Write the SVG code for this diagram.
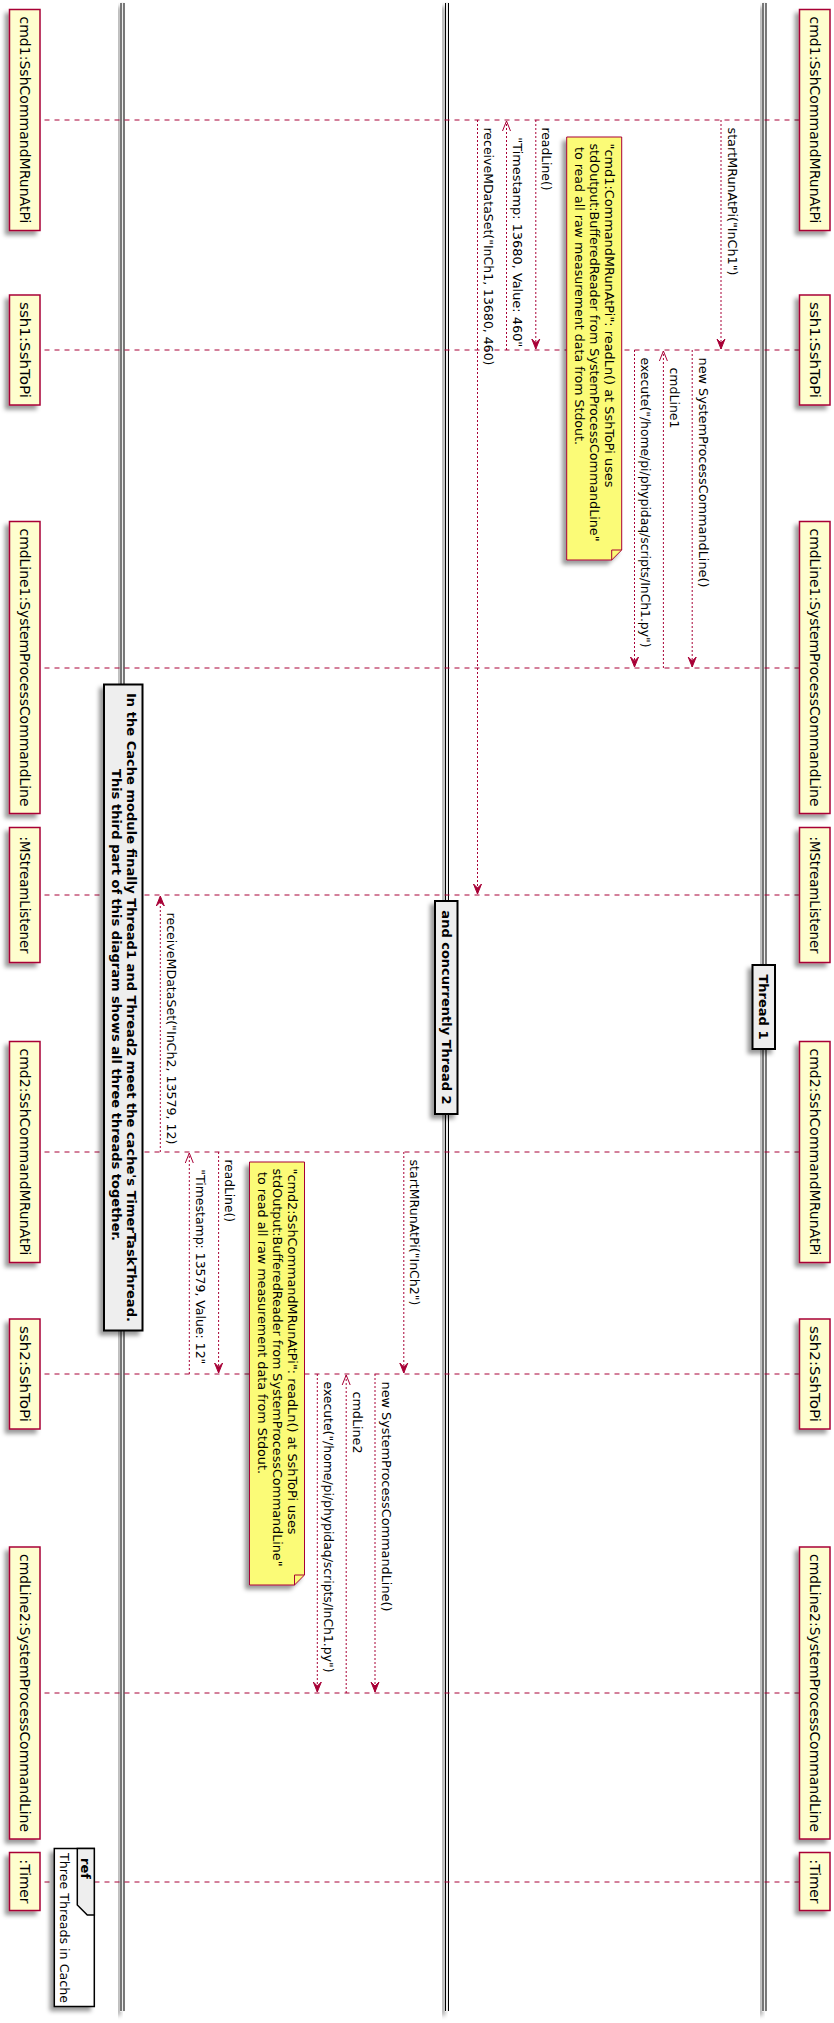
<svg xmlns="http://www.w3.org/2000/svg" width="834" height="2023" viewBox="0 0 834 2023">
<defs>
<style>
.p{fill:#FEFECE;stroke:#A80036;stroke-width:1.5}
.ll{stroke:#A80036;stroke-width:1;stroke-dasharray:5,5;fill:none}
.msg{stroke:#A80036;stroke-width:1;stroke-dasharray:2,2;fill:none}
.t14{font-family:'DejaVu Sans','Liberation Sans',sans-serif;font-size:14px;fill:#000000}
.t13{font-family:'DejaVu Sans','Liberation Sans',sans-serif;font-size:13px;fill:#000000}
.b{font-weight:bold}
.note{fill:#FBFB77;stroke:#A80036;stroke-width:1}
.fold{fill:none;stroke:#A80036;stroke-width:1}
.dbox{fill:#EEEEEE;stroke:#000000;stroke-width:2}
.dband{fill:#EEEEEE;stroke:#EEEEEE;stroke-width:1}
.dl{stroke:#000000;stroke-width:1}
</style>
<filter id="sh" x="-1" y="-1" width="300%" height="300%">
<feGaussianBlur in="SourceGraphic" stdDeviation="2" result="b1"/>
<feColorMatrix in="b1" type="matrix" values="0 0 0 0 0 0 0 0 0 0 0 0 0 0 0 0 0 0 .4 0" result="b2"/>
<feOffset in="b2" dx="4" dy="4" result="b3"/>
<feBlend in="SourceGraphic" in2="b3" mode="normal"/>
</filter>
<marker id="af" markerUnits="userSpaceOnUse" markerWidth="12" markerHeight="10" refX="10" refY="4" orient="auto" overflow="visible">
<path d="M0,0 L10,4 L0,8 L4,4 Z" fill="#A80036" stroke="#A80036" stroke-width="1"/>
</marker>
<marker id="ao" markerUnits="userSpaceOnUse" markerWidth="12" markerHeight="10" refX="10" refY="4" orient="auto" overflow="visible">
<path d="M0,0 L10,4 L0,8" fill="none" stroke="#A80036" stroke-width="1"/>
</marker>
</defs>
<rect x="0" y="0" width="834" height="2023" fill="#FFFFFF"/>
<g transform="matrix(0 1 -1 0 834 0)">

<g id="dividers">
<g id="div-thread1">
<rect class="dband" x="3" y="68" width="2008" height="3" filter="url(#sh)"/>
<line class="dl" x1="3" y1="68" x2="2011" y2="68"/>
<line class="dl" x1="3" y1="71" x2="2011" y2="71"/>
</g>
<g id="div-thread2">
<rect class="dband" x="3" y="385.5" width="2008" height="3" filter="url(#sh)"/>
<line class="dl" x1="3" y1="385.5" x2="2011" y2="385.5"/>
<line class="dl" x1="3" y1="388.5" x2="2011" y2="388.5"/>
</g>
<g id="div-cache">
<rect class="dband" x="3" y="710" width="2008" height="3" filter="url(#sh)"/>
<line class="dl" x1="3" y1="710" x2="2011" y2="710"/>
<line class="dl" x1="3" y1="713" x2="2011" y2="713"/>
</g>
</g>

<g id="p-cmd1">
<line class="ll" x1="120" y1="34.5" x2="120" y2="794"/>
<rect class="p" x="9.5" y="4" width="221" height="30.5" filter="url(#sh)"/>
<text class="t14" x="16.5" y="24.5" textLength="207" lengthAdjust="spacingAndGlyphs">cmd1:SshCommandMRunAtPi</text>
<rect class="p" x="9.5" y="794" width="221" height="30.5" filter="url(#sh)"/>
<text class="t14" x="16.5" y="814.5" textLength="207" lengthAdjust="spacingAndGlyphs">cmd1:SshCommandMRunAtPi</text>
</g>
<g id="p-ssh1">
<line class="ll" x1="350" y1="34.5" x2="350" y2="794"/>
<rect class="p" x="295" y="4" width="110" height="30.5" filter="url(#sh)"/>
<text class="t14" x="302" y="24.5" textLength="96" lengthAdjust="spacingAndGlyphs">ssh1:SshToPi</text>
<rect class="p" x="295" y="794" width="110" height="30.5" filter="url(#sh)"/>
<text class="t14" x="302" y="814.5" textLength="96" lengthAdjust="spacingAndGlyphs">ssh1:SshToPi</text>
</g>
<g id="p-cmdLine1">
<line class="ll" x1="668" y1="34.5" x2="668" y2="794"/>
<rect class="p" x="521.5" y="4" width="292" height="30.5" filter="url(#sh)"/>
<text class="t14" x="528.5" y="24.5" textLength="278" lengthAdjust="spacingAndGlyphs">cmdLine1:SystemProcessCommandLine</text>
<rect class="p" x="521.5" y="794" width="292" height="30.5" filter="url(#sh)"/>
<text class="t14" x="528.5" y="814.5" textLength="278" lengthAdjust="spacingAndGlyphs">cmdLine1:SystemProcessCommandLine</text>
</g>
<g id="p-mstream">
<line class="ll" x1="895" y1="34.5" x2="895" y2="794"/>
<rect class="p" x="827.5" y="4" width="135" height="30.5" filter="url(#sh)"/>
<text class="t14" x="836.5" y="24.5" textLength="117" lengthAdjust="spacingAndGlyphs">:MStreamListener</text>
<rect class="p" x="827.5" y="794" width="135" height="30.5" filter="url(#sh)"/>
<text class="t14" x="836.5" y="814.5" textLength="117" lengthAdjust="spacingAndGlyphs">:MStreamListener</text>
</g>
<g id="p-cmd2">
<line class="ll" x1="1152" y1="34.5" x2="1152" y2="794"/>
<rect class="p" x="1041.5" y="4" width="221" height="30.5" filter="url(#sh)"/>
<text class="t14" x="1048.5" y="24.5" textLength="207" lengthAdjust="spacingAndGlyphs">cmd2:SshCommandMRunAtPi</text>
<rect class="p" x="1041.5" y="794" width="221" height="30.5" filter="url(#sh)"/>
<text class="t14" x="1048.5" y="814.5" textLength="207" lengthAdjust="spacingAndGlyphs">cmd2:SshCommandMRunAtPi</text>
</g>
<g id="p-ssh2">
<line class="ll" x1="1374" y1="34.5" x2="1374" y2="794"/>
<rect class="p" x="1319" y="4" width="110" height="30.5" filter="url(#sh)"/>
<text class="t14" x="1326" y="24.5" textLength="96" lengthAdjust="spacingAndGlyphs">ssh2:SshToPi</text>
<rect class="p" x="1319" y="794" width="110" height="30.5" filter="url(#sh)"/>
<text class="t14" x="1326" y="814.5" textLength="96" lengthAdjust="spacingAndGlyphs">ssh2:SshToPi</text>
</g>
<g id="p-cmdLine2">
<line class="ll" x1="1693" y1="34.5" x2="1693" y2="794"/>
<rect class="p" x="1547" y="4" width="292" height="30.5" filter="url(#sh)"/>
<text class="t14" x="1554" y="24.5" textLength="278" lengthAdjust="spacingAndGlyphs">cmdLine2:SystemProcessCommandLine</text>
<rect class="p" x="1547" y="794" width="292" height="30.5" filter="url(#sh)"/>
<text class="t14" x="1554" y="814.5" textLength="278" lengthAdjust="spacingAndGlyphs">cmdLine2:SystemProcessCommandLine</text>
</g>
<g id="p-timer">
<line class="ll" x1="1882" y1="34.5" x2="1882" y2="794"/>
<rect class="p" x="1852.5" y="4" width="58" height="30.5" filter="url(#sh)"/>
<text class="t14" x="1859.5" y="24.5" textLength="44" lengthAdjust="spacingAndGlyphs">:Timer</text>
<rect class="p" x="1852.5" y="794" width="58" height="30.5" filter="url(#sh)"/>
<text class="t14" x="1859.5" y="814.5" textLength="44" lengthAdjust="spacingAndGlyphs">:Timer</text>
</g>

<g id="divider-boxes">
<g id="divbox-thread1">
<rect class="dbox" x="965" y="59" width="84" height="22.5" filter="url(#sh)"/>
<text class="t13 b" x="1007" y="74.8" text-anchor="middle">Thread 1</text>
</g>
<g id="divbox-thread2">
<rect class="dbox" x="901" y="376.5" width="213" height="22.5" filter="url(#sh)"/>
<text class="t13 b" x="1007.5" y="392.3" text-anchor="middle">and concurrently Thread 2</text>
</g>
<g id="divbox-cache">
<rect class="dbox" x="684.5" y="691.5" width="646" height="38.5" filter="url(#sh)"/>
<text class="t13 b" x="1007.5" y="707" text-anchor="middle" textLength="629" lengthAdjust="spacingAndGlyphs">In the Cache module finally Thread1 and Thread2 meet the cache's TimerTaskThread.</text>
<text class="t13 b" x="1005" y="722.2" text-anchor="middle" textLength="472" lengthAdjust="spacingAndGlyphs">This third part of this diagram shows all three threads together.</text>
</g>
</g>

<g id="note1">
<polygon class="note" points="137,212.3 137,267.3 560,267.3 560,222.3 550,212.3 137,212.3" filter="url(#sh)"/>
<path class="fold" d="M550,212.3 L550,222.3 L560,222.3"/>
<text class="t13" x="143.5" y="228.6" textLength="344" lengthAdjust="spacingAndGlyphs">"cmd1:CommandMRunAtPi": readLn() at SshToPi uses</text>
<text class="t13" x="143.5" y="243.7" textLength="398" lengthAdjust="spacingAndGlyphs">stdOutput:BufferedReader from SystemProcessCommandLine"</text>
<text class="t13" x="147" y="258.8" textLength="298" lengthAdjust="spacingAndGlyphs">to read all raw measurement data from Stdout.</text>
</g>
<g id="note2">
<polygon class="note" points="1162,529.5 1162,584.5 1585,584.5 1585,539.5 1575,529.5 1162,529.5" filter="url(#sh)"/>
<path class="fold" d="M1575,529.5 L1575,539.5 L1585,539.5"/>
<text class="t13" x="1168.5" y="545.8" textLength="366" lengthAdjust="spacingAndGlyphs">"cmd2:SshCommandMRunAtPi": readLn() at SshToPi uses</text>
<text class="t13" x="1168.5" y="560.9" textLength="398" lengthAdjust="spacingAndGlyphs">stdOutput:BufferedReader from SystemProcessCommandLine"</text>
<text class="t13" x="1172" y="576" textLength="302" lengthAdjust="spacingAndGlyphs">to read all raw measurement data from Stdout.</text>
</g>

<g id="ref">
<rect x="1848.5" y="739.7" width="158" height="40" fill="#FFFFFF" stroke="#000000" stroke-width="1.5" filter="url(#sh)"/>
<polygon points="1848.5,739.7 1915,739.7 1915,746.7 1905,756.7 1848.5,756.7" fill="#EEEEEE" stroke="#000000" stroke-width="1.5"/>
<text class="t13 b" x="1858" y="753.5">ref</text>
<text class="t13" x="1853" y="773.8" textLength="150" lengthAdjust="spacingAndGlyphs">Three Threads in Cache</text>
</g>

<g id="connectors">
<line class="msg" x1="120" y1="113" x2="349" y2="113" marker-end="url(#af)"/>
<text class="t13" x="127.5" y="106.5" textLength="148" lengthAdjust="spacingAndGlyphs">startMRunAtPi("InCh1")</text>
<line class="msg" x1="350" y1="141.8" x2="667" y2="141.8" marker-end="url(#af)"/>
<text class="t13" x="357.5" y="135.3" textLength="230" lengthAdjust="spacingAndGlyphs">new SystemProcessCommandLine()</text>
<line class="msg" x1="668" y1="170.6" x2="351" y2="170.6" marker-end="url(#ao)"/>
<text class="t13" x="367.5" y="164.1" textLength="61" lengthAdjust="spacingAndGlyphs">cmdLine1</text>
<line class="msg" x1="350" y1="199.5" x2="667" y2="199.5" marker-end="url(#af)"/>
<text class="t13" x="357.5" y="193" textLength="290" lengthAdjust="spacingAndGlyphs">execute("/home/pi/phypidaq/scripts/InCh1.py")</text>
<line class="msg" x1="120" y1="298.2" x2="349" y2="298.2" marker-end="url(#af)"/>
<text class="t13" x="127.5" y="291.7" textLength="63" lengthAdjust="spacingAndGlyphs">readLine()</text>
<line class="msg" x1="350" y1="327.5" x2="121" y2="327.5" marker-end="url(#ao)"/>
<text class="t13" x="137.3" y="321" textLength="210" lengthAdjust="spacingAndGlyphs">"Timestamp: 13680, Value: 460"</text>
<line class="msg" x1="120" y1="356.5" x2="894" y2="356.5" marker-end="url(#af)"/>
<text class="t13" x="127.5" y="350" textLength="238" lengthAdjust="spacingAndGlyphs">receiveMDataSet("InCh1, 13680, 460)</text>

<line class="msg" x1="1152" y1="430.2" x2="1373" y2="430.2" marker-end="url(#af)"/>
<text class="t13" x="1159.5" y="423.7" textLength="146" lengthAdjust="spacingAndGlyphs">startMRunAtPi("InCh2")</text>
<line class="msg" x1="1374" y1="459" x2="1692" y2="459" marker-end="url(#af)"/>
<text class="t13" x="1381.5" y="452.5" textLength="230" lengthAdjust="spacingAndGlyphs">new SystemProcessCommandLine()</text>
<line class="msg" x1="1693" y1="487.8" x2="1375" y2="487.8" marker-end="url(#ao)"/>
<text class="t13" x="1391.5" y="481.3" textLength="62" lengthAdjust="spacingAndGlyphs">cmdLine2</text>
<line class="msg" x1="1374" y1="516.7" x2="1692" y2="516.7" marker-end="url(#af)"/>
<text class="t13" x="1381.5" y="510.2" textLength="291" lengthAdjust="spacingAndGlyphs">execute("/home/pi/phypidaq/scripts/InCh1.py")</text>
<line class="msg" x1="1152" y1="615.4" x2="1373" y2="615.4" marker-end="url(#af)"/>
<text class="t13" x="1159.5" y="608.9" textLength="62.5" lengthAdjust="spacingAndGlyphs">readLine()</text>
<line class="msg" x1="1374" y1="644.7" x2="1153" y2="644.7" marker-end="url(#ao)"/>
<text class="t13" x="1169.3" y="638.2" textLength="195" lengthAdjust="spacingAndGlyphs">"Timestamp: 13579, Value: 12"</text>
<line class="msg" x1="1152" y1="673.7" x2="896" y2="673.7" marker-end="url(#af)"/>
<text class="t13" x="912.5" y="667.2" textLength="232" lengthAdjust="spacingAndGlyphs">receiveMDataSet("InCh2, 13579, 12)</text>
</g>

</g>
</svg>
